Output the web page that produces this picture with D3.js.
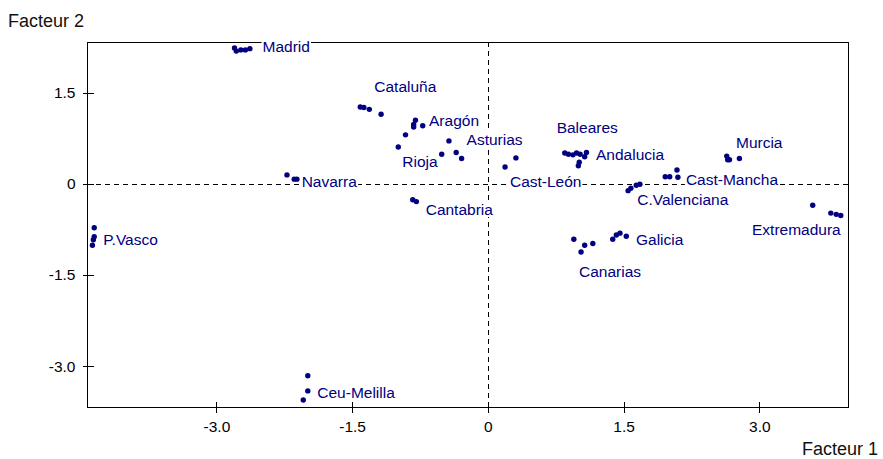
<!DOCTYPE html>
<html>
<head>
<meta charset="utf-8">
<script src="https://cdn.jsdelivr.net/npm/d3@7"></script>
<style>
  html, body { margin: 0; padding: 0; background: #fff; }
  svg { display: block; }
</style>
</head>
<body>
<script>
// ---- data ----
const regions = ["Madrid", "Cataluña", "Aragón", "Rioja", "Asturias", "Cast-León", "Navarra",
  "Cantabria", "P.Vasco", "Ceu-Melilla", "Baleares", "Andalucia", "Murcia", "Cast-Mancha",
  "C.Valenciana", "Extremadura", "Galicia", "Canarias"];

const factor1 = [
  [-2.80, -2.78, -2.73, -2.68, -2.63],
  [-1.41, -1.37, -1.31, -1.18],
  [-0.80, -0.82, -0.82, -0.72],
  [-0.91, -0.99, -0.51],
  [-0.43, -0.35, -0.29],
  [0.31, 0.19],
  [-2.22, -2.14, -2.11],
  [-0.83, -0.79],
  [-4.35, -4.35, -4.36, -4.37],
  [-1.99, -1.99, -2.04],
  [0.85, 0.89, 0.94, 0.98],
  [1.02, 1.01, 1.07, 1.09, 1.00],
  [2.64, 2.65, 2.67, 2.78],
  [1.96, 2.01, 2.09, 2.10],
  [1.55, 1.58, 1.64, 1.68],
  [3.59, 3.79, 3.85, 3.90],
  [1.38, 1.42, 1.46, 1.53],
  [0.95, 1.03, 1.07, 1.16]
];

const factor2 = [
  [2.24, 2.19, 2.21, 2.21, 2.23],
  [1.27, 1.26, 1.23, 1.15],
  [1.05, 0.98, 0.94, 0.96],
  [0.81, 0.61, 0.49],
  [0.71, 0.52, 0.42],
  [0.43, 0.28],
  [0.15, 0.08, 0.08],
  [-0.26, -0.29],
  [-0.72, -0.87, -0.92, -1.01],
  [-3.16, -3.41, -3.56],
  [0.51, 0.49, 0.48, 0.51],
  [0.49, 0.36, 0.45, 0.52, 0.30],
  [0.46, 0.40, 0.40, 0.42],
  [0.12, 0.12, 0.23, 0.11],
  [-0.11, -0.07, -0.02, -0.005],
  [-0.35, -0.48, -0.50, -0.52],
  [-0.91, -0.84, -0.81, -0.86],
  [-0.91, -1.12, -1.01, -0.98]
];

// label anchor (start of text, baseline) in factor coordinates
const labelF1 = [-2.49, -1.255, -0.65, -0.946, -0.235, 0.244, -2.058, -0.687, -4.25, -1.885,
  0.760, 1.195, 2.742, 2.189, 1.651, 2.919, 1.637, 1.007];
const labelF2 = [2.18, 1.51, 0.956, 0.285, 0.643, -0.049, -0.045, -0.511, -1.005, -3.53,
  0.836, 0.396, 0.588, -0.016, -0.346, -0.840, -1.005, -1.528];

const xTicks = [-3.0, -1.5, 0, 1.5, 3.0];
const yTicks = [1.5, 0, -1.5, -3.0];
const xTitle = "Facteur 1";
const yTitle = "Facteur 2";

// ---- layout ----
const W = 883, H = 459;
const L = 87, R = 848, T = 42, B = 407;
const FONT = "'Liberation Sans', Arial, Helvetica, sans-serif";
const NAVY = "#000080";

const svg = d3.select("body").append("svg").attr("width", W).attr("height", H)
  .style("background", "#fff");

const x = d3.scaleLinear().domain([-4.43, 3.98]).range([L, R]);
const y = d3.scaleLinear().domain([-3.675, 2.34]).range([B, T]);

const fmt = d => d === 0 ? "0" : d.toFixed(1);

// dashed zero lines
svg.append("line").attr("x1", Math.round(x(0)) + 0.5).attr("x2", Math.round(x(0)) + 0.5)
  .attr("y1", T).attr("y2", B).attr("stroke", "#000").attr("stroke-dasharray", "5,4");
svg.append("line").attr("x1", L).attr("x2", R)
  .attr("y1", Math.round(y(0)) + 0.5).attr("y2", Math.round(y(0)) + 0.5)
  .attr("stroke", "#000").attr("stroke-dasharray", "5,4");

// frame
svg.append("rect").attr("x", L + 0.5).attr("y", T + 0.5).attr("width", R - L).attr("height", B - T)
  .attr("fill", "none").attr("stroke", "#000").attr("shape-rendering", "crispEdges");

// axes
const gx = svg.append("g").attr("transform", `translate(0,${B + 0.5})`)
  .call(d3.axisBottom(x).tickValues(xTicks).tickFormat(fmt).tickSizeOuter(0).tickSize(5).tickPadding(8));
const gy = svg.append("g").attr("transform", `translate(${L + 0.5},0)`)
  .call(d3.axisLeft(y).tickValues(yTicks).tickFormat(fmt).tickSizeOuter(0).tickSize(5).tickPadding(7));
[gx, gy].forEach(g => {
  g.select(".domain").remove();
  g.selectAll("text").attr("font-family", FONT).attr("font-size", "15.5px").attr("fill", "#000");
  g.selectAll("line").attr("stroke", "#000").attr("shape-rendering", "crispEdges");
});
gx.selectAll(".tick line").attr("y1", -6).attr("y2", 5);
gy.selectAll(".tick line").attr("x1", 6).attr("x2", -5);

// axis titles
svg.append("text").attr("x", 8).attr("y", 27).text(yTitle)
  .attr("font-family", FONT).attr("font-size", "18px").attr("fill", "#111");
svg.append("text").attr("x", 802).attr("y", 455).text(xTitle)
  .attr("font-family", FONT).attr("font-size", "18px").attr("fill", "#111");

// labels with white background
const lg = svg.append("g");
regions.forEach((name, i) => {
  const g = lg.append("g");
  const t = g.append("text").attr("x", x(labelF1[i])).attr("y", y(labelF2[i])).text(name)
    .attr("font-family", FONT).attr("font-size", "15.5px").attr("fill", NAVY);
  const bb = t.node().getBBox();
  g.insert("rect", "text").attr("x", bb.x - 1).attr("y", bb.y + 1)
    .attr("width", bb.width + 2).attr("height", bb.height - 2).attr("fill", "#fff");
});

// points
const pts = [];
regions.forEach((name, i) => factor1[i].forEach((v, j) => pts.push({ f1: v, f2: factor2[i][j] })));
svg.append("g").selectAll("circle").data(pts).join("circle")
  .attr("cx", d => x(d.f1)).attr("cy", d => y(d.f2)).attr("r", 2.7).attr("fill", NAVY);
</script>
</body>
</html>
